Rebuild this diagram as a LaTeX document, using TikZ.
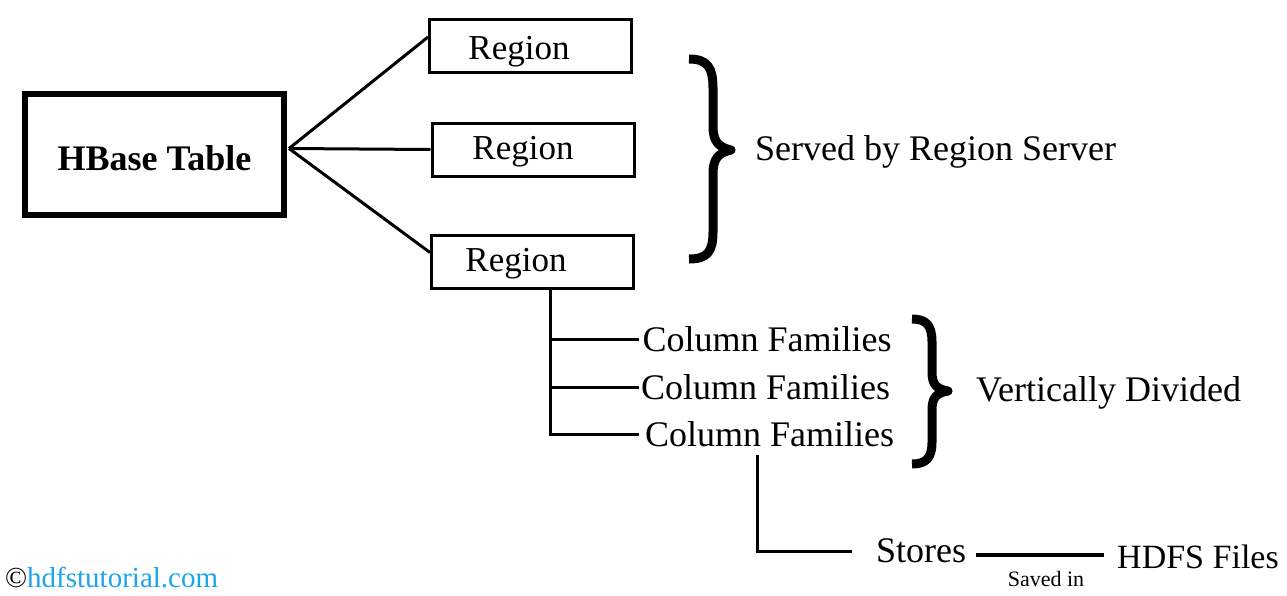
\documentclass[tikz,border=0pt]{standalone}
\usepackage{fontspec}
\setmainfont{Liberation Serif}
\usetikzlibrary{calc}
\definecolor{hdfblue}{RGB}{28,165,235}
\newcommand{\lowerby}[2]{\raisebox{-#1}[\height][\depth]{#2}}
\begin{document}
\begin{tikzpicture}[x=1pt,y=-1pt,
  txt/.style={inner sep=0pt,font=\fontsize{36}{40}\selectfont},
  regbox/.style={draw,line width=3pt,minimum width=202pt,minimum height=53pt,inner sep=0pt,font=\fontsize{35}{40}\selectfont},
  conn/.style={line width=3pt},
  bracepath/.style={line width=9pt,line join=round}]
\useasboundingbox (0,0) rectangle (1287,595);
\fill[white] (0,0) rectangle (1287,595);
% main box
\node[draw,line width=6pt,minimum width=259pt,minimum height=121pt,inner sep=0pt,
      font=\bfseries\fontsize{36}{40}\selectfont] (hb) at (154.5,154.5) {\lowerby{4pt}{HBase Table}};
% regions
\node[regbox] (r1) at (530.5,46) {\lowerby{6pt}{Region}\kern23pt};
\node[regbox] (r2) at (533,149.5) {\lowerby{2pt}{Region}\kern20pt};
\node[regbox] (r3) at (532.5,261.5) {\lowerby{2pt}{Region}\kern33pt};
\coordinate (hbj) at ($(hb.east)+(2,-6)$);
\draw[conn] (hbj) -- ($(r1.west)+(0,-9)$);
\draw[conn] (hbj) -- (r2.west);
\draw[conn] (hbj) -- ($(r3.west)+(0,-9)$);
% brace 1
\draw[bracepath] (689,59) .. controls (707,59) and (713,67) .. (713,88) -- (713,126)
  .. controls (713,141) and (718,147) .. (731,150)
  .. controls (718,153) and (713,159) .. (713,174) -- (713,232)
  .. controls (713,252) and (707,259) .. (689,259);
\node[txt,anchor=west] (srv) at (755,152) {Served by Region Server};
% column families
\node[txt] (cf1) at (767,339) {Column Families};
\node[txt] (cf2) at (765.5,387) {Column Families};
\node[txt] (cf3) at (769.5,434) {Column Families};
\coordinate (trunk) at (550,436);
\draw[conn] (r3.south -| trunk) -- (trunk);
\draw[conn] (trunk |- cf1.west) -- ($(cf1.west)+(-3,0)$);
\draw[conn] (trunk |- cf2.west) -- ($(cf2.west)+(-2,0)$);
\draw[conn] (trunk |- cf3.west) -- ($(cf3.west)+(-6,0)$);
% brace 2
\draw[bracepath] (912,319) .. controls (926,319) and (932,325) .. (932,342) -- (932,372)
  .. controls (932,384) and (936,389) .. (948,391)
  .. controls (936,393) and (932,398) .. (932,410) -- (932,442)
  .. controls (932,458) and (926,464) .. (912,464);
\node[txt,anchor=west] (vd) at (976,393) {Vertically Divided};
% stores
\node[txt] (st) at (921,551) {Stores};
\node[txt,font=\fontsize{34}{38}\selectfont] (hd) at (1198,557) {HDFS Files};
\coordinate (sdown) at (757,455);
\draw[conn] (sdown) |- ($(st.west)+(-24,0)$);
\draw[line width=4pt] ($(st.east)+(10,4)$) -- ($(hd.west)+(-13,-2)$);
\node[inner sep=0pt,font=\fontsize{22}{24}\selectfont] (sv) at (1046,579) {Saved in};
% copyright
\node[inner sep=0pt,anchor=west,font=\fontsize{29}{32}\selectfont] (cp) at (5,577) {©\textcolor{hdfblue}{hdfstutorial.com}};
\end{tikzpicture}
\end{document}
